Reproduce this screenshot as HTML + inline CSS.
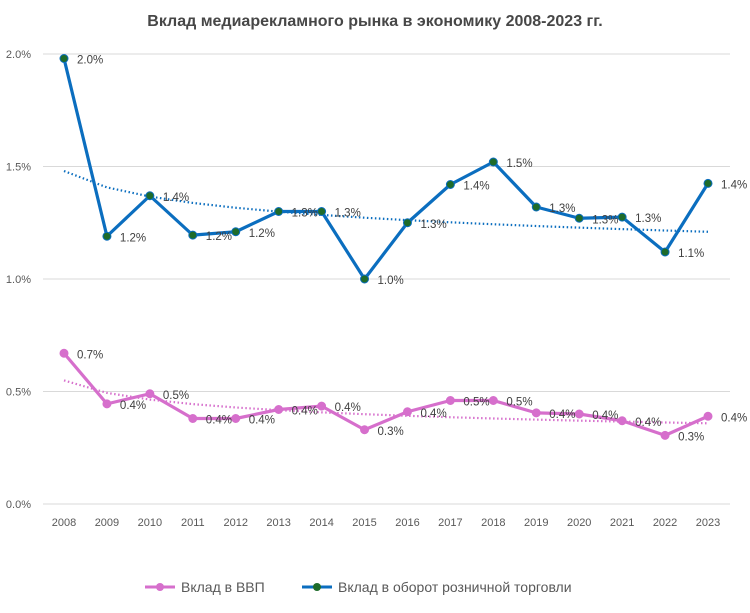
<!DOCTYPE html>
<html><head><meta charset="utf-8"><style>
body{margin:0;background:#fff;font-family:"Liberation Sans",sans-serif}
svg text{font-family:"Liberation Sans","Noto Sans CJK SC",sans-serif}
</style></head><body>
<svg width="750" height="608">
<rect x="0" y="0" width="750" height="608" fill="#fff"/>
<text x="375" y="26" text-anchor="middle" font-size="16" font-weight="bold" fill="#474747">Вклад медиарекламного рынка в экономику 2008-2023 гг.</text>
<g id="grid"></g><g id="xaxis"></g><g id="trends"></g><g id="series"></g><g id="labels"></g>
<g>
<g>
<line x1="145" y1="587" x2="175" y2="587" stroke="#d66fcc" stroke-width="3"/><circle cx="160" cy="587" r="4" fill="#d66fcc"/>
<text x="181" y="592" font-size="14" fill="#595959">Вклад в ВВП</text></g>
<g>
<line x1="302" y1="587" x2="332" y2="587" stroke="#0b6ebf" stroke-width="3"/><circle cx="317" cy="587" r="4" fill="#1e6b2a"/>
<text x="338" y="592" font-size="14" fill="#595959">Вклад в оборот розничной торговли</text></g>
</g>
</svg>
<script>
const years=["2008","2009","2010","2011","2012","2013","2014","2015","2016","2017","2018","2019","2020","2021","2022","2023"];
const retail=[1.98,1.19,1.37,1.195,1.21,1.30,1.30,1.00,1.25,1.42,1.52,1.32,1.27,1.275,1.12,1.425];
const gdp=[0.67,0.445,0.49,0.38,0.38,0.42,0.435,0.33,0.41,0.46,0.46,0.405,0.40,0.37,0.305,0.39];
const yTicks=[0,0.5,1.0,1.5,2.0];
const NS="http://www.w3.org/2000/svg";
const X=i=>64+i*(708-64)/(years.length-1);
const Y=v=>504-v*225;
function mk(tag,attrs,parent,text){const e=document.createElementNS(NS,tag);for(const k in attrs)e.setAttribute(k,attrs[k]);if(text!==undefined)e.textContent=text;document.getElementById(parent).appendChild(e);return e;}
yTicks.forEach(t=>{
 const l=mk('line',{x1:43,x2:730,y1:Y(t),y2:Y(t),stroke:'#d9d9d9','stroke-width':1},'grid');
 
 
 const tx=mk('text',{x:31,y:Y(t)+4,'text-anchor':'end','font-size':11,fill:'#595959'},'grid',t.toFixed(1)+'%');
 
 
});
years.forEach((yr,i)=>{
 const tx=mk('text',{x:X(i),y:526,'text-anchor':'middle','font-size':11,fill:'#595959'},'xaxis',yr);
 
 
});
function trend(vals){const n=vals.length;let sx=0,sy=0,sxx=0,sxy=0;vals.forEach((v,i)=>{const x=Math.log(i+1);const y=Math.log(v);sx+=x;sy+=y;sxx+=x*x;sxy+=x*y;});const b=(n*sxy-sx*sy)/(n*sxx-sx*sx);const a=(sy-b*sx)/n;return vals.map((v,i)=>Math.exp(a)*Math.pow(i+1,b)*0.985);}
function draw(vals,line,dot,name){
 const tv=trend(vals);
 const tp=mk('polyline',{points:tv.map((v,i)=>X(i)+','+Y(v)).join(' '),fill:'none',stroke:line,'stroke-width':2.2,'stroke-dasharray':'1.5 2.5'},'trends');
 
 
 const p=mk('polyline',{points:vals.map((v,i)=>X(i)+','+Y(v)).join(' '),fill:'none',stroke:line,'stroke-width':3.2,'stroke-linejoin':'round'},'series');
 
 
 vals.forEach((v,i)=>{
  const c=mk('circle',{cx:X(i),cy:Y(v),r:4,fill:dot,stroke:line,'stroke-width':1},'series');
  
  
  const t=mk('text',{x:X(i)+13,y:Y(v)+5,'font-size':11.5,fill:'#404040'},'labels',v.toFixed(1)+'%');
  
  
 });
}
draw(retail,'#0b6ebf','#1e6b2a','retail');
draw(gdp,'#d66fcc','#d66fcc','gdp');
</script>
</body></html>
